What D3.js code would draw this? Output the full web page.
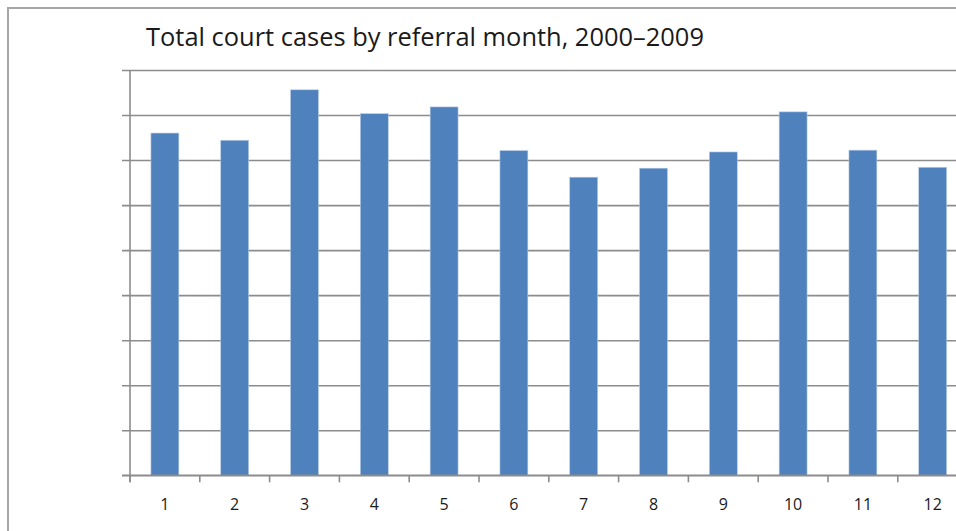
<!DOCTYPE html>
<html>
<head>
<meta charset="utf-8">
<script src="https://cdn.jsdelivr.net/npm/d3@7"></script>
<style>
  html, body { margin: 0; padding: 0; background: #fff; }
  svg { display: block; }
</style>
</head>
<body>
<svg id="chart" width="956" height="531"></svg>
<script>
const title = "Total court cases by referral month, 2000\u20132009";
const months = ["1", "2", "3", "4", "5", "6", "7", "8", "9", "10", "11", "12"];
const cases = [760, 744, 856, 803, 818, 721, 662, 682, 718, 807, 722, 684];
const yTicks = [0, 100, 200, 300, 400, 500, 600, 700, 800, 900];

const svg = d3.select("#chart");
const W = 956, H = 531;

// outer chart border (extends past right/bottom edges)
svg.append("rect")
  .attr("x", 8).attr("y", 8)
  .attr("width", 1000).attr("height", 600)
  .attr("fill", "#fff")
  .attr("stroke", "#a6a6a6").attr("stroke-width", 2);

const plot = { left: 130, right: 967.6, top: 70, bottom: 475.3 };

const x = d3.scaleBand()
  .domain(months)
  .range([plot.left, plot.right])
  .paddingInner(0.6)
  .paddingOuter(0.3);

const y = d3.scaleLinear()
  .domain([0, 900])
  .range([plot.bottom, plot.top]);

// gridlines with left tick marks
const yAxis = d3.axisLeft(y).tickValues(yTicks).tickSize(-(W + 20 - plot.left)).tickFormat("");
const gy = svg.append("g").attr("transform", `translate(${plot.left},0)`).call(yAxis);
gy.select(".domain").remove();
gy.selectAll(".tick line")
  .attr("x1", -8)
  .attr("stroke", "#8c8c8c").attr("stroke-width", 1.6);

// bars
svg.append("g").selectAll("rect")
  .data(cases)
  .join("rect")
  .attr("x", (d, i) => x(months[i]))
  .attr("width", x.bandwidth())
  .attr("y", d => y(d))
  .attr("height", d => y(0) - y(d))
  .attr("fill", "#4f81bd")
  .attr("stroke", "#b8cce4").attr("stroke-width", 0.6);

// y axis line
svg.append("line")
  .attr("x1", plot.left).attr("x2", plot.left)
  .attr("y1", plot.top).attr("y2", plot.bottom + 7)
  .attr("stroke", "#8c8c8c").attr("stroke-width", 1.6);

// x axis: baseline, ticks between categories
const step = x.step();
const boundaries = d3.range(months.length + 1).map(i => plot.left + i * step);
svg.append("line")
  .attr("x1", plot.left - 8).attr("x2", W + 10)
  .attr("y1", plot.bottom).attr("y2", plot.bottom)
  .attr("stroke", "#8c8c8c").attr("stroke-width", 1.6);
svg.append("g").selectAll("line")
  .data(boundaries)
  .join("line")
  .attr("x1", d => d).attr("x2", d => d)
  .attr("y1", plot.bottom).attr("y2", plot.bottom + 7)
  .attr("stroke", "#8c8c8c").attr("stroke-width", 1.6);

// x labels
svg.append("g").selectAll("text")
  .data(months)
  .join("text")
  .attr("x", d => x(d) + x.bandwidth() / 2)
  .attr("y", 510)
  .attr("text-anchor", "middle")
  .attr("font-family", "'Open Sans', 'DejaVu Sans', sans-serif")
  .attr("font-size", 16)
  .attr("fill", "#1a1a1a")
  .text(d => d);

// title
const t = svg.append("text")
  .attr("x", 146).attr("y", 46)
  .attr("font-family", "'Open Sans', 'DejaVu Sans', sans-serif")
  .attr("font-size", 20)
  .attr("fill", "#1a1a1a")
  .text(title);
const tw = t.node().getComputedTextLength();
t.attr("font-size", 20 * 558 / tw);
</script>
</body>
</html>
